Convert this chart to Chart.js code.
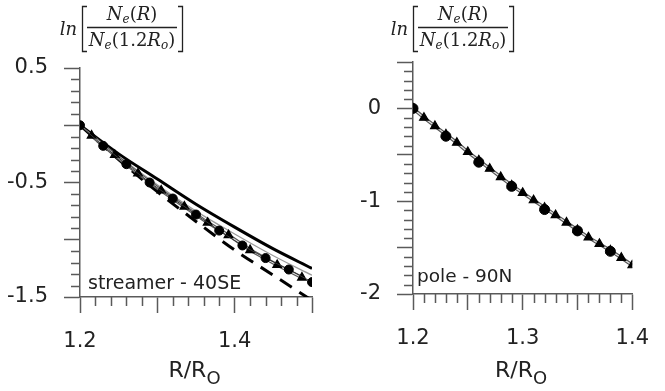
<!DOCTYPE html>
<html lang="en">
<head>
  <meta charset="UTF-8" />
  <title>ln Ne(R)/Ne(1.2Ro) - streamer and pole</title>
  <script src="https://cdn.jsdelivr.net/npm/chart.js"></script>
  <style>
    body { margin: 0; background: #fff; }
    .wrap { position: relative; width: 665px; height: 391px; }
    .panel { position: absolute; top: 0; height: 391px; }
    #left { left: 0; width: 332px; }
    #right { left: 332px; width: 333px; }
  </style>
</head>
<body>
  <div class="wrap">
    <div class="panel" id="left"><canvas id="leftChart"></canvas></div>
    <div class="panel" id="right"><canvas id="rightChart"></canvas></div>
  </div>

  <script>
    // streamer - 40SE
    const streamerSolidR = [1.2, 1.25, 1.3, 1.35, 1.4, 1.45, 1.5];
    const streamerSolidV = [0, -0.25, -0.47, -0.69, -0.89, -1.08, -1.25];
    const streamerDashR = [1.2, 1.25, 1.3, 1.35, 1.4, 1.45, 1.5];
    const streamerDashV = [0, -0.30, -0.58, -0.84, -1.09, -1.31, -1.53];
    const streamerGrayR = [1.2, 1.25, 1.3, 1.35, 1.4, 1.45, 1.5];
    const streamerGrayV = [0, -0.27, -0.52, -0.75, -0.95, -1.14, -1.31];
    const streamerCircleR = [1.2, 1.23, 1.26, 1.29, 1.32, 1.35, 1.38, 1.41, 1.44, 1.47, 1.5];
    const streamerCircleV = [0, -0.18, -0.34, -0.50, -0.64, -0.78, -0.92, -1.05, -1.16, -1.26, -1.37];
    const streamerTriR = [1.215, 1.245, 1.275, 1.305, 1.335, 1.365, 1.392, 1.42, 1.455, 1.487];
    const streamerTriV = [-0.09, -0.26, -0.42, -0.57, -0.71, -0.85, -0.96, -1.09, -1.22, -1.33];

    // pole - 90N
    const poleCircleR = [1.2, 1.23, 1.26, 1.29, 1.32, 1.35, 1.38];
    const poleCircleV = [0, -0.30, -0.58, -0.84, -1.09, -1.32, -1.54];
    const poleTriR = [1.2, 1.21, 1.22, 1.23, 1.24, 1.25, 1.26, 1.27, 1.28, 1.29, 1.3,
                      1.31, 1.32, 1.33, 1.34, 1.35, 1.36, 1.37, 1.38, 1.39, 1.4];
    const poleTriV = [0, -0.10, -0.19, -0.28, -0.37, -0.47, -0.56, -0.65, -0.74, -0.83, -0.91,
                      -0.99, -1.07, -1.15, -1.23, -1.31, -1.39, -1.46, -1.53, -1.61, -1.69];

    // tick labels / major ticks
    const streamerXLabels = [1.2, 1.4];
    const streamerXMajor = [1.2, 1.3, 1.4, 1.5];
    const streamerYLabels = [0.5, -0.5, -1.5];
    const streamerYMajor = [0.5, 0, -0.5, -1, -1.5];
    const poleXLabels = [1.2, 1.3, 1.4];
    const poleXMajor = [1.2, 1.25, 1.3, 1.35, 1.4];
    const poleYLabels = [0, -1, -2];
    const poleYMajor = [0.5, 0, -0.5, -1, -1.5, -2];

    const axisColor = '#5a5a5a';
    const textColor = '#222';

    function range(a, b, step) {
      const out = [];
      const n = Math.round((b - a) / step);
      for (let i = 0; i <= n; i++) out.push(Math.round((a + i * step) * 1000) / 1000);
      return out;
    }
    function has(list, v) {
      return list.some(m => Math.abs(m - v) < 1e-6);
    }
    function pts(rs, vs) {
      return rs.map((r, i) => ({ x: r, y: vs[i] }));
    }

    function axis(cfg) {
      return {
        type: 'linear',
        min: cfg.min,
        max: cfg.max,
        afterBuildTicks: s => { s.ticks = cfg.ticks.map(v => ({ value: v })); },
        afterFit: s => { if (cfg.isY) s.width = cfg.size; else s.height = cfg.size; },
        border: { color: axisColor, width: 1.5 },
        grid: {
          drawOnChartArea: false,
          tickLength: 16,
          tickWidth: 1.5,
          tickColor: c => has(cfg.major, c.tick.value) ? axisColor : 'rgba(0,0,0,0)'
        },
        ticks: {
          autoSkip: false,
          maxRotation: 0,
          padding: 16,
          color: textColor,
          font: { family: 'DejaVu Sans', size: 21 },
          callback: v => has(cfg.labels, v) ? String(Math.round(v * 10) / 10) : ''
        }
      };
    }

    // short ticks between the long ones
    const minorTicks = {
      id: 'minorTicks',
      afterDraw(chart, args, opts) {
        const ctx = chart.ctx;
        const xs = chart.scales.x, ys = chart.scales.y;
        const area = chart.chartArea;
        ctx.save();
        ctx.strokeStyle = axisColor;
        ctx.lineWidth = 1.5;
        ctx.beginPath();
        xs.ticks.forEach(t => {
          if (has(opts.xMajor, t.value)) return;
          const px = Math.round(xs.getPixelForValue(t.value)) + 0.5;
          ctx.moveTo(px, area.bottom);
          ctx.lineTo(px, area.bottom + 9);
        });
        ys.ticks.forEach(t => {
          if (has(opts.yMajor, t.value)) return;
          const py = Math.round(ys.getPixelForValue(t.value)) + 0.5;
          ctx.moveTo(area.left, py);
          ctx.lineTo(area.left - 9, py);
        });
        ctx.stroke();
        ctx.restore();
      }
    };

    function drawRuns(ctx, runs, cx, baseline) {
      let total = 0;
      runs.forEach(r => { ctx.font = r.f; r.w = ctx.measureText(r.t).width; total += r.w; });
      let x = cx - total / 2;
      ctx.textAlign = 'left';
      runs.forEach(r => {
        ctx.font = r.f;
        ctx.fillText(r.t, x, baseline + (r.dy || 0));
        x += r.w;
      });
    }

    const it = s => `italic ${s}px "DejaVu Serif"`;
    const up = s => `${s}px "DejaVu Serif"`;

    // ln [ Ne(R) / Ne(1.2Ro) ] heading, x axis title and panel name
    const panelText = {
      id: 'panelText',
      afterDraw(chart, args, opts) {
        const ctx = chart.ctx;
        const area = chart.chartArea;
        const A = opts.formulaX;
        ctx.save();
        ctx.fillStyle = textColor;
        ctx.strokeStyle = textColor;
        ctx.textBaseline = 'alphabetic';

        ctx.font = it(18);
        ctx.textAlign = 'right';
        ctx.fillText('ln', A - 4, 35);

        ctx.lineWidth = 1.3;
        ctx.beginPath();
        ctx.moveTo(A + 6, 6.5); ctx.lineTo(A + 1.5, 6.5); ctx.lineTo(A + 1.5, 51.5); ctx.lineTo(A + 6, 51.5);
        ctx.moveTo(A + 97, 6.5); ctx.lineTo(A + 101.5, 6.5); ctx.lineTo(A + 101.5, 51.5); ctx.lineTo(A + 97, 51.5);
        ctx.moveTo(A + 6, 27.5); ctx.lineTo(A + 96, 27.5);
        ctx.stroke();

        drawRuns(ctx, [
          { t: 'N', f: it(18) }, { t: 'e', f: it(12), dy: 3 },
          { t: '(', f: up(18) }, { t: 'R', f: it(18) }, { t: ')', f: up(18) }
        ], A + 51, 20);
        drawRuns(ctx, [
          { t: 'N', f: it(18) }, { t: 'e', f: it(12), dy: 3 },
          { t: '(1.2', f: up(18) }, { t: 'R', f: it(18) }, { t: 'o', f: it(12), dy: 3 },
          { t: ')', f: up(18) }
        ], A + 51, 46);

        // R/Ro
        const main = '22px "DejaVu Sans"', sub = '18px "DejaVu Sans"';
        drawRuns(ctx, [
          { t: 'R/R', f: main }, { t: 'O', f: sub, dy: 7 }
        ], (area.left + area.right) / 2 - 1.5, 377);

        ctx.font = opts.nameFont;
        ctx.textAlign = 'left';
        ctx.fillText(opts.name, area.left + opts.nameDx, opts.nameY);
        ctx.restore();
      }
    };

    Chart.defaults.animation = false;
    Chart.defaults.events = [];

    new Chart(document.getElementById('leftChart'), {
      type: 'line',
      data: {
        datasets: [
          { data: pts(streamerCircleR, streamerCircleV), borderColor: '#333', borderWidth: 1,
            pointStyle: 'circle', pointRadius: 4.5, pointBackgroundColor: '#000', pointBorderColor: '#000' },
          { data: pts(streamerTriR, streamerTriV), borderColor: '#e4e4e4', borderWidth: 1.2,
            pointStyle: 'triangle', pointRadius: 5, pointBackgroundColor: '#000', pointBorderColor: '#000' },
          { data: pts(streamerTriR, streamerTriV), borderColor: '#555', borderWidth: 3.5, pointRadius: 0 },
          { data: pts(streamerGrayR, streamerGrayV), borderColor: '#999', borderWidth: 1.2, pointRadius: 0,
            cubicInterpolationMode: 'monotone' },
          { data: pts(streamerSolidR, streamerSolidV), borderColor: '#000', borderWidth: 3, pointRadius: 0,
            cubicInterpolationMode: 'monotone' },
          { data: pts(streamerDashR, streamerDashV), borderColor: '#000', borderWidth: 3, borderDash: [14, 9],
            pointRadius: 0, cubicInterpolationMode: 'monotone' }
        ]
      },
      options: {
        responsive: true,
        maintainAspectRatio: false,
        layout: { padding: { left: 0, right: 20, top: 68, bottom: 0 } },
        plugins: {
          legend: { display: false },
          tooltip: { enabled: false },
          minorTicks: { xMajor: streamerXMajor, yMajor: streamerYMajor },
          panelText: { formulaX: 81, name: 'streamer - 40SE', nameFont: '19px "DejaVu Sans"', nameDx: 8, nameY: 289 }
        },
        scales: {
          x: axis({ min: 1.2, max: 1.5, ticks: range(1.2, 1.5, 0.02), major: streamerXMajor,
                    labels: streamerXLabels, size: 94 }),
          y: axis({ min: -1.5, max: 0.5, ticks: range(-1.5, 0.5, 0.1), major: streamerYMajor,
                    labels: streamerYLabels, size: 80, isY: true })
        }
      },
      plugins: [minorTicks, panelText]
    });

    new Chart(document.getElementById('rightChart'), {
      type: 'line',
      data: {
        datasets: [
          { data: pts(poleCircleR, poleCircleV), showLine: false,
            pointStyle: 'circle', pointRadius: 5, pointBackgroundColor: '#000', pointBorderColor: '#000' },
          { data: pts(poleTriR, poleTriV), borderColor: '#e4e4e4', borderWidth: 1.2,
            pointStyle: 'triangle', pointRadius: 5, pointBackgroundColor: '#000', pointBorderColor: '#000' },
          { data: pts(poleTriR, poleTriV), borderColor: '#555', borderWidth: 3.5, pointRadius: 0 }
        ]
      },
      options: {
        responsive: true,
        maintainAspectRatio: false,
        layout: { padding: { left: 0, right: 23, top: 62, bottom: 0 } },
        plugins: {
          legend: { display: false },
          tooltip: { enabled: false },
          minorTicks: { xMajor: poleXMajor, yMajor: poleYMajor },
          panelText: { formulaX: 80, name: 'pole - 90N', nameFont: '18.5px "DejaVu Sans"', nameDx: 4, nameY: 282 }
        },
        scales: {
          x: axis({ min: 1.2, max: 1.4, ticks: range(1.2, 1.4, 0.01), major: poleXMajor,
                    labels: poleXLabels, size: 97 }),
          y: axis({ min: -2, max: 0.5, ticks: range(-2, 0.5, 0.1), major: poleYMajor,
                    labels: poleYLabels, size: 81, isY: true })
        }
      },
      plugins: [minorTicks, panelText]
    });
  </script>
</body>
</html>
